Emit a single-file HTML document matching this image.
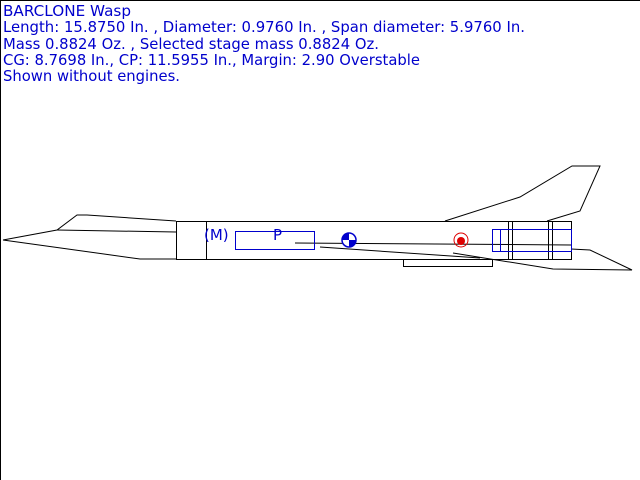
<!DOCTYPE html>
<html><head><style>html,body{margin:0;padding:0;background:#fff}svg{display:block}</style></head>
<body>
<svg width="640" height="480" xmlns="http://www.w3.org/2000/svg">
<rect x="0" y="0" width="640" height="480" fill="#fff"/>
<line x1="0.5" y1="0" x2="0.5" y2="480" stroke="#000"/>
<line x1="0" y1="0.5" x2="640" y2="0.5" stroke="#000"/>
<g font-family="'DejaVu Sans','Liberation Sans',sans-serif" font-size="15" fill="#0000cc">
<text x="3" y="16" textLength="128" lengthAdjust="spacingAndGlyphs">BARCLONE Wasp</text>
<text x="3" y="32" textLength="522" lengthAdjust="spacingAndGlyphs">Length: 15.8750 In. , Diameter: 0.9760 In. , Span diameter: 5.9760 In.</text>
<text x="3" y="49" textLength="376" lengthAdjust="spacingAndGlyphs">Mass 0.8824 Oz. , Selected stage mass 0.8824 Oz.</text>
<text x="3" y="65" textLength="417" lengthAdjust="spacingAndGlyphs">CG: 8.7698 In., CP: 11.5955 In., Margin: 2.90 Overstable</text>
<text x="3" y="81" textLength="177" lengthAdjust="spacingAndGlyphs">Shown without engines.</text>
</g>
<g stroke="#000" fill="none" stroke-width="1">
<polyline points="3,240 57,230 77,215 87,215 176,221"/>
<polyline points="57,230 176,232"/>
<polyline points="3,240 140,259 176,259"/>
<rect x="176.5" y="221.5" width="395" height="38"/>
<line x1="206.5" y1="221" x2="206.5" y2="259"/>
<polyline points="445,221 520,197 572,166 600,166 580,211 547,221"/>
<line x1="295" y1="243" x2="571" y2="245"/>
<line x1="320" y1="247" x2="480" y2="258"/>
<rect x="403.5" y="259.5" width="89" height="7"/>
<polyline points="453,253 553,269 632,270 590,250 571,249"/>
<line x1="508.5" y1="221" x2="508.5" y2="259"/>
<line x1="512.5" y1="221" x2="512.5" y2="259"/>
<line x1="548.5" y1="221" x2="548.5" y2="259"/>
<line x1="552.5" y1="221" x2="552.5" y2="259"/>
</g>
<g stroke="#0000cc" fill="none">
<rect x="235.5" y="231.5" width="79" height="18"/>
<rect x="492.5" y="229.5" width="79" height="22"/>
<rect x="492.5" y="229.5" width="8" height="22"/>
</g>
<g font-family="'DejaVu Sans','Liberation Sans',sans-serif" font-size="15" fill="#0000cc">
<text x="204" y="240">(M)</text>
<text x="273" y="240">P</text>
</g>
<circle cx="349" cy="240" r="7" fill="#fff" stroke="#0000cc" stroke-width="1.5"/>
<path d="M349,240 L349,233 A7,7 0 0 0 342,240 Z" fill="#0000cc"/>
<path d="M349,240 L356,240 A7,7 0 0 1 349,247 Z" fill="#0000cc"/>
<circle cx="461" cy="240" r="7" fill="none" stroke="#dd0000"/>
<circle cx="461" cy="241" r="4" fill="#dd0000"/>
</svg>
</body></html>
